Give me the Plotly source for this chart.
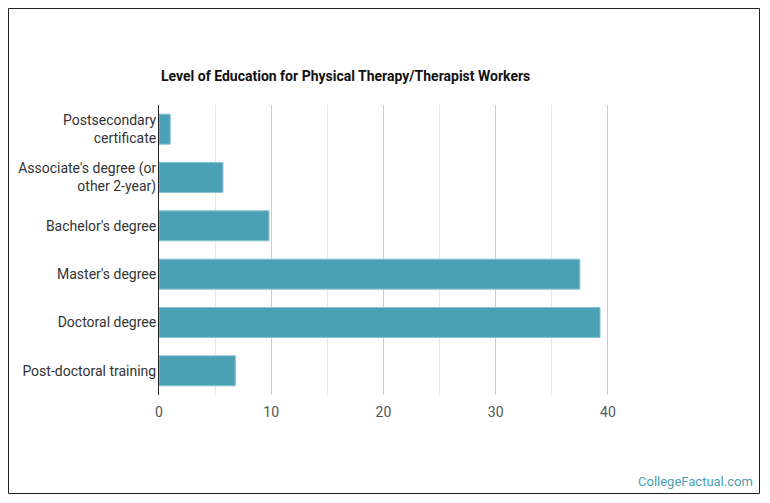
import plotly.graph_objects as go

# data
categories = ["Postsecondary<br>certificate",
              "Associate's degree (or<br>other 2-year)",
              "Bachelor's degree",
              "Master's degree",
              "Doctoral degree",
              "Post-doctoral training"]
values = [1.0, 5.7, 9.8, 37.5, 39.3, 6.8]
major_ticks = [0, 10, 20, 30, 40]
minor_ticks = [5, 15, 25, 35]

W, H = 770, 503
L, T, PW, PH = 159, 105, 505, 290
B = H - T - PH


def px_x(x):  # pixel -> paper x
    return (x - L) / PW


def px_y(y):  # pixel (from top) -> paper y
    return (T + PH - y) / PH


fig = go.Figure(go.Bar(
    x=values, y=categories, orientation='h',
    marker=dict(color='#4aa0b5', line=dict(color='#86c3d1', width=1)),
    hoverinfo='x+y'
))

fig.update_layout(
    width=W, height=H,
    margin=dict(l=L, r=W - L - PW, t=T, b=B),
    paper_bgcolor='white', plot_bgcolor='white',
    font=dict(family='Roboto', size=14, color='#333333'),
    bargap=0.38,
    showlegend=False,
)

fig.update_xaxes(
    range=[0, 45], tickvals=major_ticks, showgrid=True, gridcolor='#cccccc',
    zeroline=False, showline=False, ticks='',
    tickfont=dict(color='#555555', size=14), ticklabelstandoff=7,
    minor=dict(tickvals=minor_ticks, showgrid=True, gridcolor='#e8e8e8'),
)
fig.update_yaxes(
    autorange='reversed', showline=True, linecolor='#222222', linewidth=1,
    ticks='', showgrid=False, tickfont=dict(color='#333333', size=14),
    ticklabelstandoff=-1,
)

# frame round the chart
fig.add_shape(type='rect', xref='paper', yref='paper',
              x0=px_x(8.5), x1=px_x(759.5), y0=px_y(493.5), y1=px_y(8.5),
              line=dict(color='#222222', width=1))

fig.add_annotation(text='<b>Level of Education for Physical Therapy/Therapist Workers</b>',
                   xref='paper', yref='paper', x=0, y=px_y(76),
                   xanchor='left', yanchor='middle', showarrow=False,
                   font=dict(family='Roboto', size=14, color='#111111'))
fig.add_annotation(text='CollegeFactual.com', xref='paper', yref='paper',
                   x=px_x(755), y=px_y(481), xanchor='right', yanchor='middle',
                   showarrow=False,
                   font=dict(family='Roboto', size=13, color='#4aa0b5'))

# drop the page margin so the figure fills the window exactly
fig.write_html("out.html", config={'displayModeBar': False},
               post_script="document.body.style.margin='0';document.body.style.overflow='hidden';")
